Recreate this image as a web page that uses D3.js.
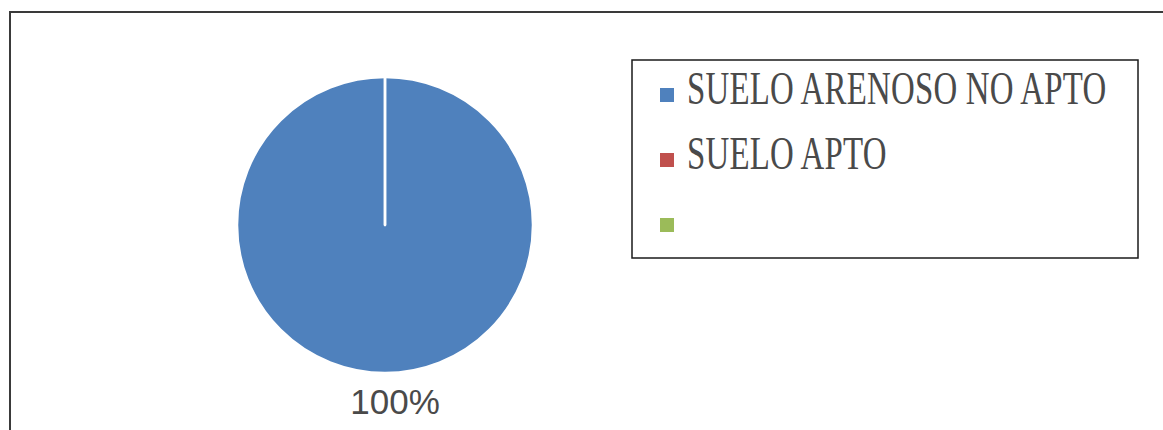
<!DOCTYPE html>
<html>
<head>
<meta charset="utf-8">
<script src="https://cdn.jsdelivr.net/npm/d3@7"></script>
<style>
  html, body { margin: 0; padding: 0; background: #fff; }
  svg { display: block; }
</style>
</head>
<body>
<svg id="chart" width="1163" height="430"></svg>
<script>
// Soil suitability shares
const categories = ["SUELO ARENOSO NO APTO", "SUELO APTO", ""];
const values = [100, 0, 0];
const colors = ["#4F81BD", "#C0504D", "#9BBB59"];
const labelFormat = v => v + "%";

const svg = d3.select("#chart");
const W = 1163, H = 430;

// chart frame (runs off the right and bottom edges)
svg.append("rect")
  .attr("x", 10).attr("y", 12)
  .attr("width", W).attr("height", H)
  .attr("fill", "#fff")
  .attr("stroke", "#3a3a3a")
  .attr("stroke-width", 2);

const data = categories.map((c, i) => ({ name: c, value: values[i], color: colors[i] }));

const cx = 385, cy = 225, r = 148;
const pie = d3.pie().sort(null).value(d => d.value);
const arc = d3.arc().innerRadius(0).outerRadius(r);
const labelArc = d3.arc().innerRadius(r + 28).outerRadius(r + 28);

const g = svg.append("g").attr("transform", `translate(${cx},${cy})`);
const arcs = pie(data);

g.selectAll("path.slice")
  .data(arcs)
  .join("path")
  .attr("class", "slice")
  .attr("d", arc)
  .attr("fill", d => d.data.color)
  .attr("stroke", "#fff")
  .attr("stroke-width", 2.5)
  .attr("stroke-linejoin", "round");

// value labels for non-empty slices, outside end
g.selectAll("text.val")
  .data(arcs.filter(d => d.data.value > 0))
  .join("text")
  .attr("class", "val")
  .attr("transform", d => {
    const [x, y] = labelArc.centroid(d);
    return `translate(${x + 10},${y})`;
  })
  .attr("text-anchor", "middle")
  .attr("dominant-baseline", "central")
  .attr("font-family", "Liberation Sans, Arial, sans-serif")
  .attr("font-size", 35)
  .attr("fill", "#4a4a4a")
  .text(d => labelFormat(d.data.value));

// legend
const lg = svg.append("g");
lg.append("rect")
  .attr("x", 632).attr("y", 60)
  .attr("width", 506).attr("height", 198)
  .attr("fill", "#fff")
  .attr("stroke", "#1a1a1a")
  .attr("stroke-width", 1.5);

const legendY = d3.scalePoint().domain(categories.map((c, i) => i)).range([95, 225]);

const items = lg.selectAll("g.item")
  .data(data)
  .join("g")
  .attr("class", "item")
  .attr("transform", (d, i) => `translate(660,${legendY(i)})`);

items.append("rect")
  .attr("x", 0).attr("y", -7)
  .attr("width", 14).attr("height", 14)
  .attr("fill", d => d.color);

items.append("text")
  .attr("transform", "translate(27,9) scale(0.7,1)")
  .attr("font-family", "Liberation Serif, Times New Roman, serif")
  .attr("font-size", 47)
  .attr("letter-spacing", 0.3)
  .attr("fill", "#4a4a4a")
  .text(d => d.name);
</script>
</body>
</html>
